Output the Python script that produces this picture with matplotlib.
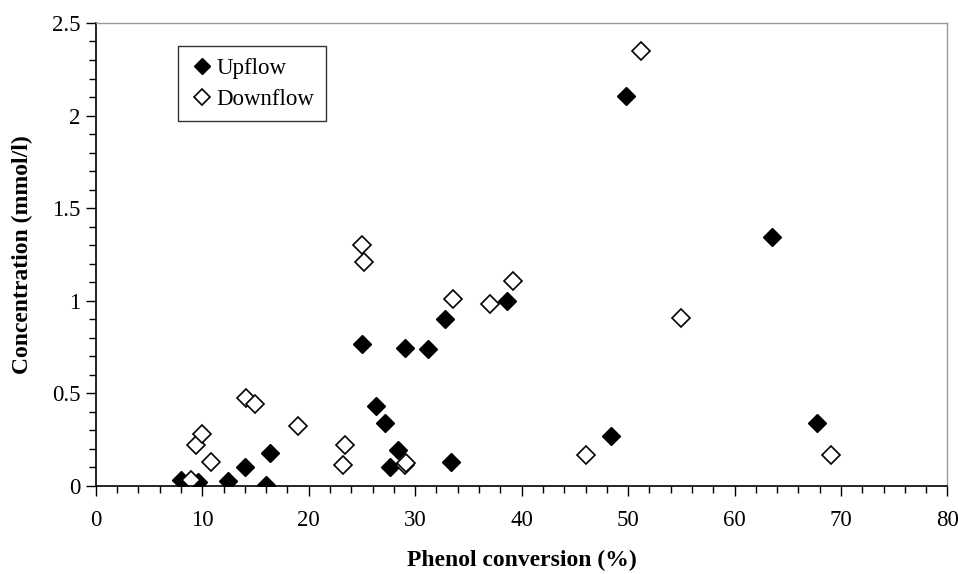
import numpy as np
import matplotlib
matplotlib.use("Agg")
import matplotlib.pyplot as plt
from matplotlib.ticker import MultipleLocator

# Data
up_x = [8.0, 9.6, 12.4, 14.0, 15.95, 16.4, 25.0, 26.3, 27.2, 27.6,
        28.4, 29.0, 31.2, 32.8, 33.4, 38.6, 48.4, 49.8, 63.5, 67.7]
up_y = [0.033, 0.022, 0.029, 0.10, 0.007, 0.177, 0.765, 0.43, 0.34, 0.10,
        0.197, 0.747, 0.738, 0.90, 0.132, 0.998, 0.268, 2.106, 1.347, 0.338]

down_x = [8.9, 9.4, 10.0, 10.8, 14.1, 15.0, 19.0, 23.2, 23.4, 25.0,
          25.2, 29.0, 29.1, 33.6, 37.0, 39.2, 46.0, 51.2, 55.0, 69.1]
down_y = [0.03, 0.219, 0.282, 0.13, 0.476, 0.445, 0.322, 0.116, 0.219, 1.30,
          1.21, 0.116, 0.123, 1.007, 0.985, 1.108, 0.166, 2.346, 0.907, 0.166]

plt.rcParams['font.family'] = ['Liberation Serif', 'DejaVu Serif']

fig = plt.figure(figsize=(9.58, 5.74), dpi=100)
ax = fig.add_axes([0.100, 0.1533, 0.889, 0.8067])

ax.plot(up_x, up_y, linestyle='none', marker='D', markersize=9,
        markerfacecolor='black', markeredgecolor='black', label='Upflow')
ax.plot(down_x, down_y, linestyle='none', marker='D', markersize=9,
        markerfacecolor='white', markeredgecolor='black', markeredgewidth=1.2,
        label='Downflow')

ax.set_xlim(0, 80)
ax.set_ylim(0, 2.5)
ax.xaxis.set_major_locator(MultipleLocator(10))
ax.xaxis.set_minor_locator(MultipleLocator(2))
ax.yaxis.set_major_locator(MultipleLocator(0.5))
ax.yaxis.set_minor_locator(MultipleLocator(0.1))
ax.yaxis.set_major_formatter(plt.FuncFormatter(lambda v, p: f"{v:g}"))

ax.tick_params(which='major', direction='out', length=7, width=1, labelsize=16.5)
ax.tick_params(which='minor', direction='out', length=5, width=1)
ax.tick_params(axis='x', which='major', pad=10)
ax.tick_params(axis='y', which='major', pad=4)

for s in ['left', 'bottom']:
    ax.spines[s].set_color('black')
    ax.spines[s].set_linewidth(1.2)
for s in ['top', 'right']:
    ax.spines[s].set_color('#999999')
    ax.spines[s].set_linewidth(1.0)

ax.set_xlabel('Phenol conversion (%)', fontsize=17, fontweight='bold', labelpad=14)
ax.set_ylabel('Concentration (mmol/l)', fontsize=17, fontweight='bold', labelpad=14)

leg = ax.legend(loc='upper left', bbox_to_anchor=(0.097, 0.950), borderaxespad=0,
                fontsize=16.5, frameon=True, fancybox=False, handletextpad=0.05,
                handlelength=1.1, borderpad=0.5, labelspacing=0.45, markerscale=0.85)
leg.get_frame().set_edgecolor('black')
leg.get_frame().set_linewidth(1.0)

fig.savefig('out.png', dpi=100)
